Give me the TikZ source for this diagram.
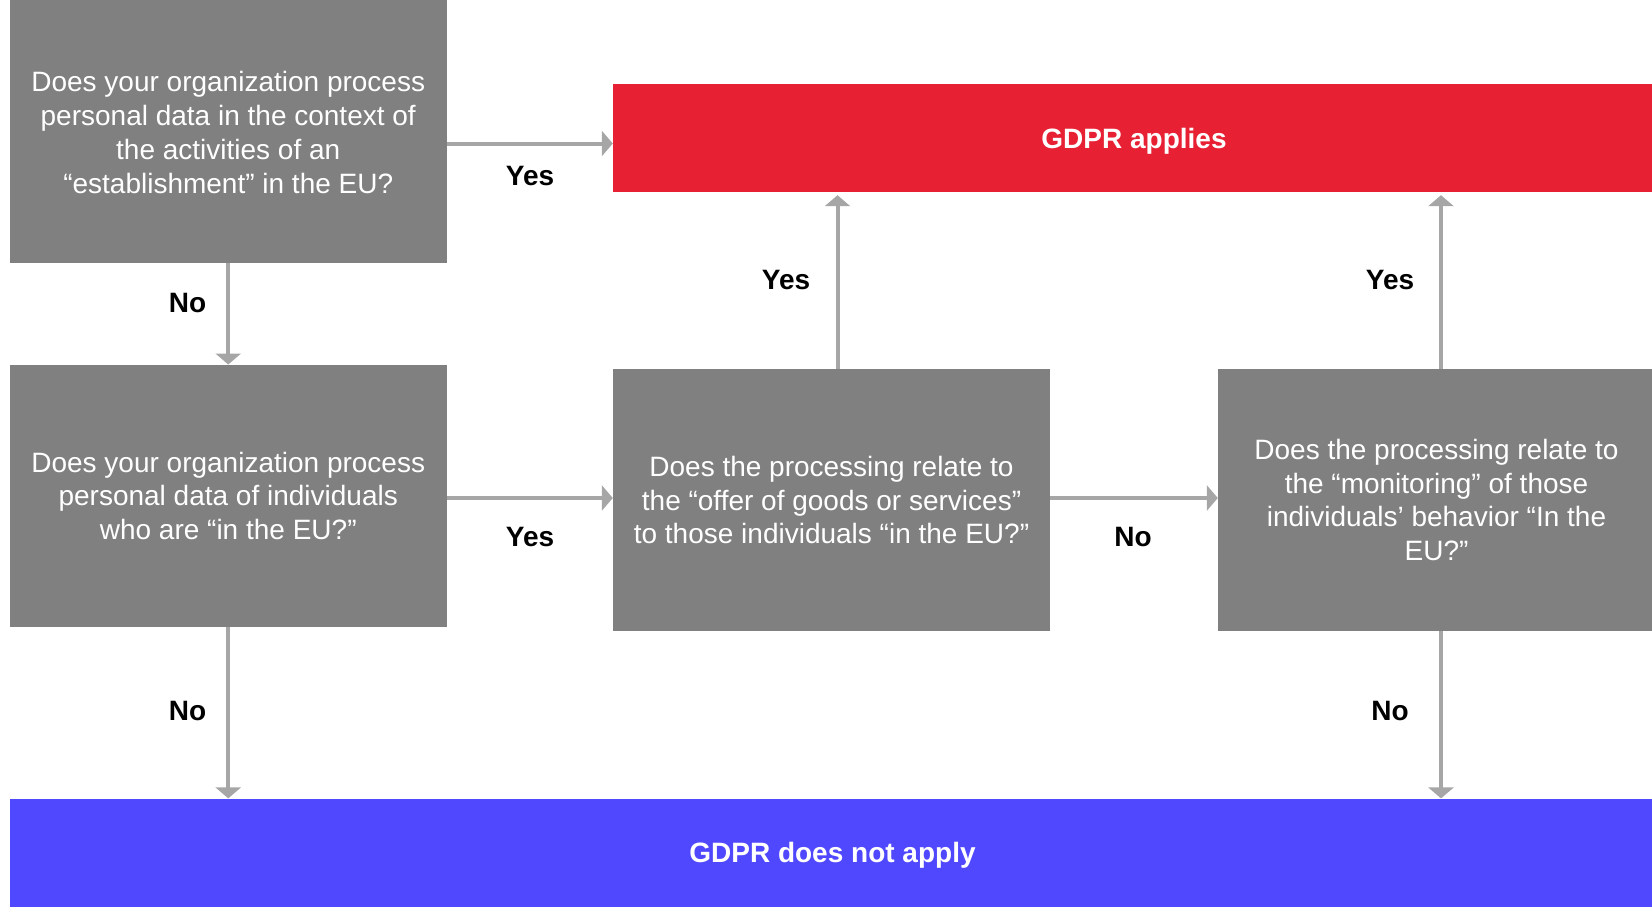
\documentclass[tikz,border=0pt]{standalone}
\usepackage{fontspec}
\setmainfont{Liberation Sans}
\usetikzlibrary{arrows.meta}
\definecolor{qgray}{HTML}{808080}
\definecolor{lgray}{HTML}{A6A6A6}
\definecolor{gred}{HTML}{E82034}
\definecolor{gblue}{HTML}{5048FF}
\begin{document}
\begin{tikzpicture}[x=1pt,y=-1pt,
  question/.style={fill=qgray, text=white, inner sep=0pt, align=center,
    minimum width=437pt, minimum height=262pt,
    font=\fontsize{28}{33.7}\selectfont},
  qtext/.style={text=white, inner sep=0pt, align=center,
    font=\fontsize{28}{33.7}\selectfont},
  result/.style={inner sep=0pt, text=white, minimum height=108pt, text depth=0pt,
    minimum width=1042pt, font=\fontsize{28}{33.7}\selectfont\bfseries},
  answer/.style={font=\fontsize{28}{33.7}\selectfont\bfseries, inner sep=0pt},
  flow/.style={draw=lgray, line width=4pt, -{Triangle[width=25pt,length=11pt]}}]
\useasboundingbox (0,0) rectangle (1652,907);
\clip (0,0) rectangle (1652,907);

% questions
\node[question, minimum height=266pt,
  label={[qtext, yshift=-3pt]center:{Does your organization process\\personal data in the context of\\the activities of an\\“establishment” in the EU?}}]
  (q1) at (228.25,129.5) {};
\node[question] (q2) at (228.25,495.75) {Does your organization process\\personal data of individuals\\who are “in the EU?”};
\node[question] (q3) at (831.5,500) {Does the processing relate to\\the “offer of goods or services”\\to those individuals “in the EU?”};
\node[question] (q4) at (1436.5,500) {Does the processing relate to\\the “monitoring” of those\\individuals’ behavior “In the\\EU?”};

% outcomes
\node[result, fill=gred] (yes) at (1134,138) {GDPR applies};
\node[result, fill=gblue, minimum width=1646pt] (no) at (832.5,852.6) {GDPR does not apply};

% connectors
\draw[flow] (q1.east |- 0,143.5) -- (yes.west |- 0,143.5);
\draw[flow] (q1.south) -- (q2.north);
\draw[flow] (q2.east |- 0,498) -- (q3.west |- 0,498);
\draw[flow] (q3.east |- 0,498) -- (q4.west |- 0,498);
\draw[flow, shorten >=3pt] ([xshift=6pt]q3.north) -- ([xshift=6pt]q3.north |- yes.south);
\draw[flow, shorten >=3pt] ([xshift=4.5pt]q4.north) -- ([xshift=4.5pt]q4.north |- yes.south);
\draw[flow] (q2.south) -- (q2.south |- no.north);
\draw[flow] ([xshift=4.5pt]q4.south) -- ([xshift=4.5pt]q4.south |- no.north);

% answer labels
\node[answer] (a1) at (530,176) {Yes};
\node[answer] (a2) at (187.5,303) {No};
\node[answer] (a3) at (786,280) {Yes};
\node[answer] (a4) at (1390,280) {Yes};
\node[answer] (a5) at (530,537) {Yes};
\node[answer] (a6) at (1133,537) {No};
\node[answer] (a7) at (187.5,711) {No};
\node[answer] (a8) at (1390,711) {No};
\end{tikzpicture}
\end{document}
